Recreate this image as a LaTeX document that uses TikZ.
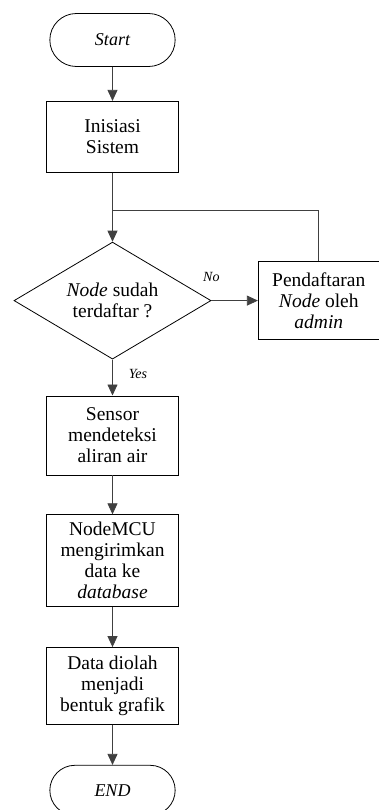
\documentclass[tikz,border=0pt]{standalone}
\usepackage{fontspec}
\setmainfont{Liberation Serif}
\usetikzlibrary{positioning,shapes.geometric,shapes.misc,arrows.meta}

\begin{document}
\begin{tikzpicture}[x=1pt,y=1pt,line width=0.8pt,
  every node/.style={font=\fontsize{19.5}{21}\selectfont, align=center},
  terminal/.style={draw, rounded rectangle, minimum width=132pt, minimum height=53pt, font=\fontsize{18}{21}\selectfont\itshape},
  proses/.style={draw, minimum width=132pt, inner sep=2pt},
  keputusan/.style={draw, diamond, aspect=1.7, minimum width=197pt, minimum height=117pt, inner sep=0pt},
  ket/.style={font=\fontsize{14}{15}\selectfont\itshape, inner sep=0pt},
  panah/.style={draw=black!75, -{Triangle[length=11pt,width=10pt]}},
  garis/.style={draw=black!75}]
\useasboundingbox (0,0) rectangle (379,-810);
\node[terminal] (mulai) at (112.5,-40) {Start};
\node[proses, minimum height=71pt, below=34pt of mulai] (inisiasi) {Inisiasi\\Sistem};
\coordinate[below=38pt of inisiasi] (gabung);
\node[keputusan, below=69pt of inisiasi] (cek) {\textit{Node} sudah\\terdaftar ?};
\node[proses, minimum width=121pt, minimum height=78pt, right=46.5pt of cek] (daftar) {Pendaftaran\\\textit{Node} oleh\\\textit{admin}};
\node[proses, minimum height=79pt, below=36pt of cek] (sensor) {Sensor\\mendeteksi\\aliran air};
\node[proses, minimum height=92pt, below=39pt of sensor] (kirim) {NodeMCU\\mengirimkan\\data ke\\\textit{database}};
\node[proses, minimum height=77pt, below=40pt of kirim] (olah) {Data diolah\\menjadi\\bentuk grafik};
\node[terminal, minimum height=50pt, below=40pt of olah] (selesai) {END};
\draw[panah] (mulai) -- (inisiasi);
\draw[garis] (inisiasi) -- (gabung);
\draw[panah] (gabung) -- (cek);
\draw[panah] (cek) -- node[ket, pos=0, above=19pt] {No} (daftar);
\draw[garis] (daftar.north) |- (gabung);
\draw[panah] (cek) -- node[ket, pos=0.4, right=16pt] {Yes} (sensor);
\draw[panah] (sensor) -- (kirim);
\draw[panah] (kirim) -- (olah);
\draw[panah] (olah) -- (selesai);
\end{tikzpicture}
\end{document}
